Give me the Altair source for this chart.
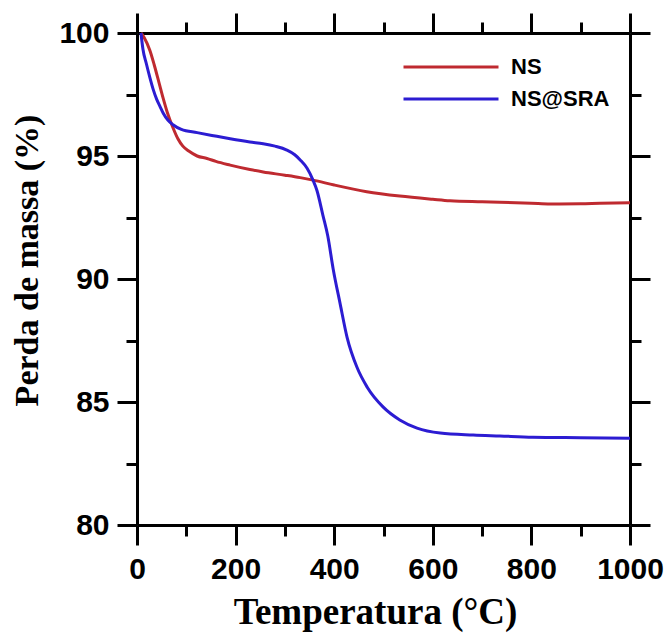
import altair as alt
import pandas as pd

# Thermogravimetric curves: temperature (°C) vs. remaining mass (%)
ns_temp = [8, 15, 26, 35, 45, 53, 61, 73, 83, 93, 105, 122, 142, 160, 189, 229,
           256, 300, 331, 357, 400, 466, 533, 600, 635, 700, 736, 800, 838, 900,
           939, 1000]
ns_mass = [100, 99.8, 99.3, 98.7, 97.95, 97.35, 96.8, 96.15, 95.7, 95.4, 95.2,
           95.0, 94.9, 94.78, 94.63, 94.45, 94.35, 94.22, 94.12, 94.02, 93.82,
           93.55, 93.37, 93.24, 93.18, 93.14, 93.12, 93.08, 93.05, 93.06, 93.08,
           93.1]

sra_temp = [8, 12, 19, 26, 33, 40, 47, 53, 63, 73, 90, 122, 162, 189, 229, 256,
            280, 304, 320, 331, 345, 357, 365, 377, 387, 398, 412, 426, 446, 467,
            499, 533, 568, 615, 682, 736, 803, 900, 1000]
sra_mass = [100, 99.35, 98.75, 98.2, 97.7, 97.3, 97.0, 96.75, 96.45, 96.27,
            96.08, 95.95, 95.8, 95.7, 95.57, 95.5, 95.4, 95.24, 95.05, 94.84,
            94.5, 94.02, 93.6, 92.6, 91.75, 90.4, 89.0, 87.64, 86.42, 85.6, 84.8,
            84.27, 83.94, 83.74, 83.66, 83.62, 83.57, 83.55, 83.53]

series_names = ["NS", "NS@SRA"]
series_colors = ["#bf2a30", "#2c1cd2"]

x_major = [0, 200, 400, 600, 800, 1000]
x_minor = [100, 300, 500, 700, 900]
y_major = [80, 85, 90, 95, 100]
y_minor = [82.5, 87.5, 92.5, 97.5]

df = pd.concat([
    pd.DataFrame({"Temperatura": ns_temp, "Massa": ns_mass, "Amostra": series_names[0]}),
    pd.DataFrame({"Temperatura": sra_temp, "Massa": sra_mass, "Amostra": series_names[1]}),
], ignore_index=True)

x_scale = alt.Scale(domain=[0, 1000], nice=False, zero=False)
y_scale = alt.Scale(domain=[80, 100], nice=False, zero=False)

LABEL_FONT = "Liberation Sans"
TITLE_FONT = "Liberation Serif"


def frame_axis(orient, values, size, main=False, title=None, **extra):
    opts = dict(
        orient=orient,
        values=values,
        tickSize=size,
        tickWidth=3,
        tickColor="black",
        domain=main,
        domainWidth=3,
        domainColor="black",
        grid=False,
        labels=False,
        title=title,
    )
    opts.update(extra)
    return alt.Axis(**opts)


label_opts = dict(
    labels=True,
    format="d",
    labelFont=LABEL_FONT,
    labelFontSize=30,
    labelFontWeight="bold",
    labelColor="black",
    labelFlush=False,
    labelOverlap=False,
)
title_opts = dict(
    titleFont=TITLE_FONT,
    titleFontWeight="bold",
    titleColor="black",
    titleAlign="center",
    titleBaseline="middle",
)

curves = alt.Chart(df).mark_line(strokeWidth=3, interpolate="monotone").encode(
    x=alt.X("Temperatura:Q", scale=x_scale,
            axis=frame_axis("bottom", x_major, 20, main=True, title="Temperatura (°C)",
                            labelPadding=9, titleX=238, titleY=87, titleFontSize=37,
                            **label_opts, **title_opts)),
    y=alt.Y("Massa:Q", scale=y_scale,
            axis=frame_axis("left", y_major, 20, main=True, title="Perda de massa (%)",
                            labelPadding=8, titleX=-110, titleY=227, titleAngle=270,
                            titleFontSize=34, **label_opts, **title_opts)),
    color=alt.Color("Amostra:N",
                    scale=alt.Scale(domain=series_names, range=series_colors),
                    legend=alt.Legend(
                        orient="none", legendX=265, legendY=24, title=None,
                        symbolType="stroke", symbolSize=9025, symbolStrokeWidth=3,
                        clipHeight=20, rowPadding=10, labelOffset=11, padding=0,
                        labelFont=LABEL_FONT, labelFontSize=22,
                        labelFontWeight="bold", labelColor="black",
                    )),
    detail="Amostra:N",
)


def tick_layer(xaxis, yaxis):
    return alt.Chart(df).mark_point(opacity=0, size=1).encode(
        x=alt.X("Temperatura:Q", scale=x_scale, axis=xaxis),
        y=alt.Y("Massa:Q", scale=y_scale, axis=yaxis),
    )


minor_bl = tick_layer(frame_axis("bottom", x_minor, 11), frame_axis("left", y_minor, 11))
major_tr = tick_layer(frame_axis("top", x_major, 20, main=True),
                      frame_axis("right", y_major, 20, main=True))
minor_tr = tick_layer(frame_axis("top", x_minor, 11), frame_axis("right", y_minor, 11))

chart = alt.layer(curves, minor_bl, major_tr, minor_tr).resolve_axis(
    x="independent", y="independent"
).properties(
    width=493,
    height=492,
    autosize=alt.AutoSizeParams(type="none"),
    padding={"left": 137, "top": 33, "right": 39, "bottom": 108},
    background="white",
).configure_view(stroke=None)

chart.save("out.html", embed_options={"renderer": "svg", "actions": False})
